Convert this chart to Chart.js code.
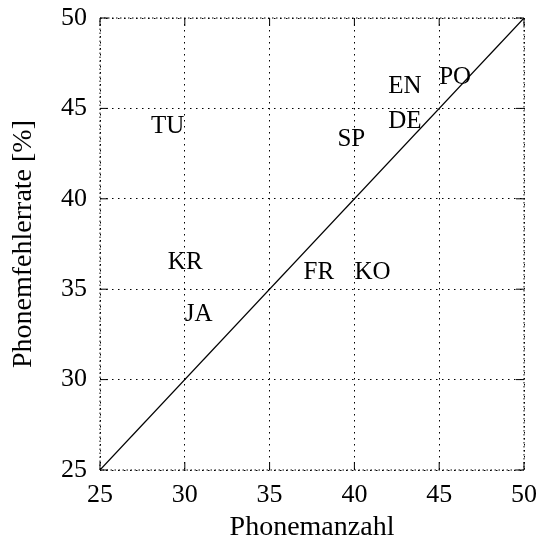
<!DOCTYPE html>
<html>
<head>
<meta charset="utf-8">
<script src="https://cdn.jsdelivr.net/npm/chart.js@4.4.0/dist/chart.umd.min.js"></script>
<style>
html, body { margin: 0; padding: 0; background: #fff; }
</style>
</head>
<body>
<canvas id="chartArea" width="539" height="541"></canvas>
<script>
// language labels and their positions (Phonemanzahl, Phonemfehlerrate)
var langLabels = ['TU', 'EN', 'PO', 'DE', 'SP', 'KR', 'FR', 'KO', 'JA'];
var langX = [28, 42, 45, 42, 39, 29, 37, 40, 30];
var langY = [44, 46.2, 46.7, 44.3, 43.3, 36.5, 35.9, 35.9, 33.6];
// reference diagonal
var diagX = [25, 50];
var diagY = [25, 50];
var axisTicks = [25, 30, 35, 40, 45, 50];

var serif = 'Liberation Serif';

var diagData = diagX.map(function (v, i) { return { x: v, y: diagY[i] }; });

var textLabels = {
    id: 'textLabels',
    beforeDatasetsDraw: function (chart) {
        var c = chart.ctx, sx = chart.scales.x, sy = chart.scales.y;
        c.save();
        c.font = '25px "' + serif + '"';
        c.textAlign = 'left';
        c.textBaseline = 'middle';
        c.fillStyle = '#000';
        for (var i = 0; i < langLabels.length; i++) {
            c.fillText(langLabels[i], sx.getPixelForValue(langX[i]), sy.getPixelForValue(langY[i]));
        }
        c.restore();
    },
    afterDraw: function (chart) {
        var c = chart.ctx, a = chart.chartArea, sx = chart.scales.x, sy = chart.scales.y;
        var tl = 8;
        c.save();
        c.strokeStyle = '#000';
        c.lineWidth = 1;
        // dotted box
        c.setLineDash([1.5, 2.5]);
        c.strokeRect(a.left, a.top, a.right - a.left, a.bottom - a.top);
        c.setLineDash([]);
        // inward tick marks
        c.beginPath();
        axisTicks.forEach(function (t) {
            var px = sx.getPixelForValue(t), py = sy.getPixelForValue(t);
            c.moveTo(px, a.bottom); c.lineTo(px, a.bottom - tl);
            c.moveTo(px, a.top); c.lineTo(px, a.top + tl);
            c.moveTo(a.left, py); c.lineTo(a.left + tl, py);
            c.moveTo(a.right, py); c.lineTo(a.right - tl, py);
        });
        c.stroke();
        c.restore();
    }
};

function noEdgePadding(scale) {
    scale.paddingTop = 0;
    scale.paddingBottom = 0;
    scale.paddingLeft = 0;
    scale.paddingRight = 0;
}

var config = {
    type: 'scatter',
    data: {
        datasets: [{
            data: diagData,
            showLine: true,
            borderColor: '#000',
            borderWidth: 1.2,
            pointRadius: 0,
            fill: false
        }]
    },
    options: {
        responsive: false,
        animation: false,
        layout: { autoPadding: false, padding: { top: 18, right: 15, bottom: 0, left: 0 } },
        plugins: {
            legend: { display: false },
            tooltip: { enabled: false }
        },
        scales: {
            x: {
                type: 'linear',
                min: 25,
                max: 50,
                afterFit: function (scale) { scale.height = 71; noEdgePadding(scale); },
                ticks: { stepSize: 5, color: '#000', padding: 10, font: { family: serif, size: 26 } },
                grid: { color: '#000', lineWidth: 1, drawTicks: false },
                border: { display: false, dash: [1.5, 4.5] },
                title: {
                    display: true,
                    text: 'Phonemanzahl',
                    color: '#000',
                    font: { family: serif, size: 28 },
                    padding: { top: 0, bottom: -3 }
                }
            },
            y: {
                type: 'linear',
                min: 25,
                max: 50,
                afterFit: function (scale) { scale.width = 100; noEdgePadding(scale); },
                ticks: { stepSize: 5, color: '#000', padding: 13, font: { family: serif, size: 26 } },
                grid: { color: '#000', lineWidth: 1, drawTicks: false },
                border: { display: false, dash: [1.5, 4.5] },
                title: {
                    display: true,
                    text: 'Phonemfehlerrate [%]',
                    color: '#000',
                    font: { family: serif, size: 28 },
                    padding: { top: 7, bottom: 0 }
                }
            }
        }
    },
    plugins: [textLabels]
};

var ctx = document.getElementById('chartArea').getContext('2d');
var myChart = new Chart(ctx, config);
</script>
</body>
</html>
